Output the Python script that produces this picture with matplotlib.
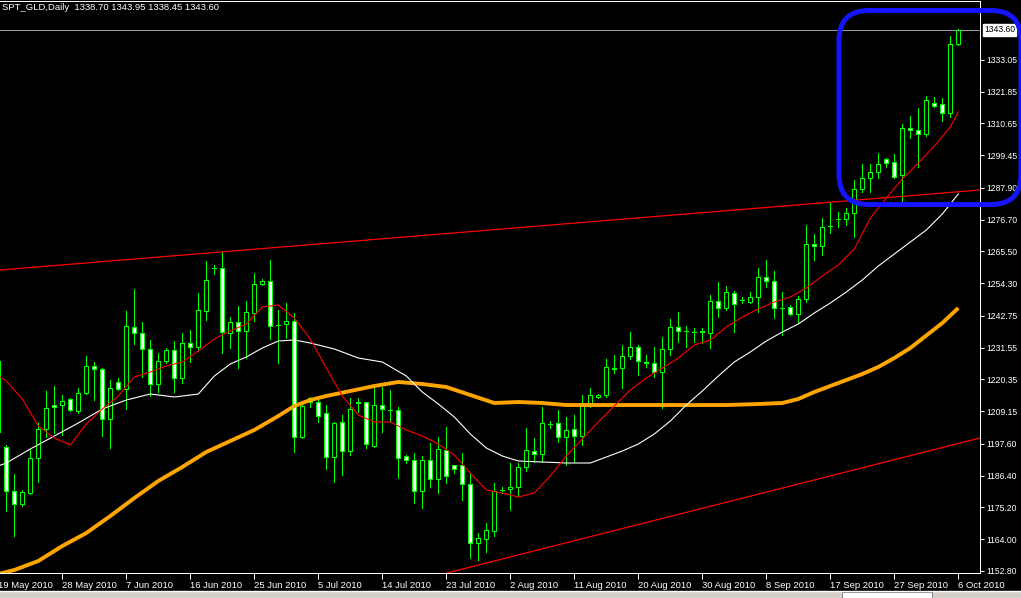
import numpy as np
import matplotlib
matplotlib.use("Agg")
import matplotlib.pyplot as plt
import matplotlib.transforms as mtransforms
from matplotlib.patches import Rectangle, FancyBboxPatch

plt.rcParams['font.family'] = ['Liberation Sans', 'DejaVu Sans']

# daily bars, bar -1 = 19 May 2010 ... bar 119 = 6 Oct 2010
bars = np.arange(-1, 120)

opens = [1201.80, 1196.51, 1180.99, 1176.41, 1180.29, 1192.63, 1202.86, 1211.33, 1211.33, 1213.44,
         1209.21, 1215.56, 1225.08, 1224.02, 1206.39, 1219.44, 1216.97, 1238.84, 1236.72, 1231.08,
         1218.73, 1226.85, 1230.73, 1220.85, 1233.20, 1231.79, 1244.48, 1259.65, 1259.65, 1236.72,
         1240.60, 1237.43, 1243.77, 1254.00, 1255.06, 1239.54, 1239.90, 1240.96, 1200.04, 1213.80,
         1212.38, 1208.50, 1192.98, 1205.33, 1195.10, 1212.38, 1212.38, 1196.86, 1211.33, 1209.56,
         1209.56, 1193.34, 1191.93, 1180.99, 1191.93, 1185.23, 1195.45, 1190.16, 1190.16, 1183.46,
         1162.65, 1164.06, 1166.88, 1181.34, 1181.69, 1182.41, 1189.46, 1195.10, 1194.04, 1204.62,
         1204.98, 1200.04, 1202.86, 1200.39, 1212.03, 1214.15, 1214.85, 1224.38, 1224.38, 1228.61,
         1231.79, 1226.49, 1226.14, 1222.96, 1231.08, 1238.84, 1237.43, 1237.07, 1237.07, 1236.72,
         1248.01, 1245.54, 1250.83, 1248.36, 1247.66, 1249.42, 1256.47, 1255.06, 1245.54, 1245.90,
         1243.42, 1248.72, 1268.11, 1267.41, 1274.46, 1276.93, 1276.93, 1279.05, 1287.51, 1291.39,
         1293.51, 1298.09, 1297.04, 1292.45, 1309.03, 1308.33, 1306.92, 1317.85, 1317.50, 1314.36,
         1338.70]
highs = [1228.00, 1197.22, 1186.99, 1181.34, 1195.81, 1204.98, 1216.26, 1218.03, 1214.85, 1213.80,
         1217.32, 1228.61, 1226.49, 1224.38, 1220.14, 1220.85, 1244.48, 1252.24, 1240.60, 1234.25,
         1229.67, 1231.43, 1233.90, 1236.72, 1237.78, 1250.83, 1262.12, 1260.71, 1265.30, 1242.37,
         1246.25, 1248.01, 1257.88, 1255.77, 1262.47, 1244.83, 1247.30, 1243.77, 1212.38, 1214.15,
         1214.15, 1211.33, 1205.33, 1207.80, 1213.80, 1213.80, 1212.50, 1217.68, 1217.68, 1216.62,
         1210.62, 1193.69, 1194.40, 1193.34, 1197.92, 1200.04, 1203.57, 1190.30, 1194.40, 1186.99,
         1166.17, 1169.70, 1183.81, 1182.41, 1190.87, 1190.87, 1203.21, 1199.68, 1210.62, 1205.68,
         1209.56, 1207.10, 1207.80, 1214.85, 1217.32, 1215.30, 1227.55, 1228.96, 1232.49, 1237.07,
         1232.49, 1228.96, 1231.79, 1235.31, 1241.66, 1244.13, 1239.19, 1238.49, 1238.49, 1250.12,
         1254.71, 1253.30, 1251.53, 1249.42, 1251.18, 1259.65, 1262.47, 1258.59, 1251.18, 1246.60,
         1249.77, 1274.81, 1271.64, 1277.28, 1282.93, 1279.40, 1280.81, 1290.69, 1296.33, 1296.33,
         1300.21, 1298.45, 1299.86, 1310.44, 1313.26, 1316.09, 1320.32, 1319.97, 1319.61, 1341.48,
         1343.95]
lows = [1199.00, 1173.94, 1165.12, 1175.70, 1179.90, 1184.17, 1200.04, 1201.45, 1200.74, 1209.21,
        1208.50, 1215.21, 1213.09, 1200.39, 1196.16, 1216.62, 1209.92, 1232.84, 1221.20, 1214.50,
        1215.91, 1226.14, 1215.91, 1219.09, 1226.49, 1230.37, 1241.31, 1257.53, 1229.67, 1231.43,
        1224.38, 1227.90, 1240.96, 1253.65, 1234.60, 1226.14, 1234.96, 1194.75, 1199.68, 1210.62,
        1205.33, 1188.75, 1184.17, 1186.64, 1193.69, 1208.86, 1196.16, 1196.50, 1201.80, 1205.33,
        1185.58, 1190.87, 1176.76, 1175.00, 1182.41, 1180.29, 1183.81, 1187.34, 1177.81, 1157.36,
        1156.65, 1159.36, 1165.12, 1180.29, 1174.29, 1179.23, 1188.05, 1191.22, 1191.22, 1203.21,
        1198.27, 1190.16, 1191.22, 1197.22, 1210.62, 1213.80, 1214.15, 1222.61, 1217.32, 1227.55,
        1221.91, 1224.73, 1221.20, 1210.27, 1228.96, 1233.55, 1231.79, 1233.55, 1233.20, 1231.43,
        1242.37, 1244.83, 1237.07, 1247.30, 1247.30, 1244.13, 1252.94, 1242.01, 1236.01, 1243.07,
        1240.25, 1247.66, 1262.47, 1264.23, 1271.99, 1274.11, 1274.81, 1270.58, 1286.46, 1286.46,
        1291.39, 1295.27, 1291.50, 1282.58, 1305.50, 1295.27, 1306.21, 1316.44, 1311.50, 1312.91,
        1338.45]
closes = [1226.85, 1180.99, 1176.41, 1180.64, 1192.63, 1202.86, 1210.27, 1210.62, 1212.74, 1209.56,
          1215.56, 1225.08, 1224.02, 1206.39, 1217.32, 1216.97, 1239.19, 1236.72, 1231.08, 1218.73,
          1226.85, 1230.73, 1220.85, 1233.20, 1231.79, 1244.83, 1255.42, 1259.50, 1237.07, 1240.60,
          1237.43, 1244.13, 1254.00, 1255.06, 1239.19, 1239.40, 1240.96, 1200.04, 1210.97, 1212.38,
          1207.45, 1192.98, 1204.98, 1195.10, 1209.92, 1212.20, 1197.57, 1211.33, 1209.92, 1209.40,
          1192.63, 1191.93, 1180.99, 1191.93, 1185.23, 1195.81, 1186.28, 1188.75, 1183.46, 1162.65,
          1164.41, 1167.23, 1180.99, 1181.20, 1182.41, 1189.46, 1195.45, 1194.04, 1204.98, 1204.80,
          1200.04, 1202.51, 1200.39, 1212.03, 1214.85, 1215.00, 1224.73, 1224.20, 1228.61, 1231.79,
          1226.85, 1226.30, 1222.96, 1231.08, 1238.84, 1237.43, 1237.30, 1236.90, 1237.30, 1248.01,
          1245.54, 1251.18, 1246.95, 1248.20, 1249.42, 1256.47, 1255.06, 1245.54, 1245.40, 1243.42,
          1248.72, 1268.11, 1267.41, 1274.11, 1274.30, 1276.80, 1278.99, 1287.51, 1291.39, 1293.51,
          1296.33, 1296.68, 1291.75, 1309.03, 1308.33, 1306.92, 1318.91, 1316.79, 1314.36, 1338.70,
          1343.60]

# moving averages
red_bars = [-1, 0, 2, 4, 6, 8, 10, 12, 14, 16, 18, 20, 22, 24, 26, 28, 30, 32, 34, 36, 38, 40,
            42, 44, 46, 48, 50, 52, 54, 56, 58, 60, 62, 64, 66, 68, 70, 72, 74, 76, 78, 80, 82,
            84, 86, 88, 90, 92, 94, 96, 98, 100, 102, 104, 106, 108, 110, 112, 114, 116, 118, 119]
red_ma = [1221.55, 1219.79, 1213.44, 1203.92, 1199.68, 1197.22, 1204.62, 1209.91, 1214.50, 1221.20,
          1222.96, 1225.08, 1226.49, 1230.37, 1234.60, 1237.43, 1239.90, 1245.89, 1246.60, 1242.01,
          1234.60, 1224.38, 1214.50, 1207.80, 1205.33, 1205.33, 1202.51, 1200.39, 1197.57, 1193.69,
          1187.34, 1181.34, 1180.28, 1178.87, 1180.28, 1186.28, 1193.34, 1199.33, 1205.33, 1210.97,
          1216.62, 1220.85, 1224.38, 1227.90, 1232.49, 1234.25, 1238.83, 1242.37, 1245.19, 1247.66,
          1249.42, 1252.59, 1256.83, 1260.71, 1266.35, 1277.28, 1284.34, 1291.04, 1296.68, 1302.68,
          1309.38, 1314.67]

white_bars = [-1, 0, 3, 6, 9, 12, 15, 18, 21, 24, 26, 28, 30, 32, 34, 36, 38, 41, 44, 47, 50, 52,
              54, 56, 58, 60, 62, 64, 67, 70, 73, 75, 77, 79, 81, 83, 85, 87, 89, 91, 93, 95, 97,
              99, 101, 103, 105, 107, 109, 111, 113, 115, 117, 119]
white_ma = [1189.81, 1190.87, 1195.80, 1200.39, 1204.98, 1209.91, 1213.09, 1215.20, 1214.15, 1215.20,
            1221.55, 1225.79, 1228.26, 1231.43, 1233.90, 1234.25, 1233.19, 1231.08, 1227.90, 1226.49,
            1221.55, 1215.91, 1211.68, 1207.09, 1201.10, 1196.16, 1193.34, 1191.57, 1191.22, 1190.87,
            1190.87, 1192.98, 1195.10, 1197.57, 1201.10, 1205.68, 1211.32, 1216.26, 1221.55, 1226.49,
            1230.02, 1233.90, 1237.07, 1239.90, 1243.78, 1247.30, 1251.18, 1255.42, 1260.35, 1264.59,
            1268.82, 1273.05, 1278.70, 1285.75]

orange_bars = [-1, 1, 4, 7, 10, 13, 16, 19, 22, 25, 28, 31, 34, 36, 38, 40, 43, 46, 49, 52, 55,
               58, 61, 64, 67, 70, 74, 78, 82, 86, 90, 94, 97, 99, 101, 103, 105, 107, 109, 111,
               113, 115, 117, 119]
orange_ma = [1151.71, 1153.12, 1156.30, 1161.59, 1166.17, 1172.17, 1178.50, 1184.52, 1189.46, 1194.75,
             1198.63, 1202.51, 1207.44, 1210.97, 1213.09, 1214.50, 1216.26, 1218.03, 1219.44, 1218.73,
             1217.67, 1214.85, 1212.03, 1212.38, 1212.03, 1211.32, 1211.32, 1211.32, 1211.32, 1211.32,
             1211.32, 1211.68, 1212.03, 1213.44, 1215.91, 1218.03, 1220.14, 1222.26, 1224.73, 1227.90,
             1231.43, 1235.84, 1240.25, 1245.54]

# trend lines (bar, price)
upper_trend_bars = [-1, 122]
upper_trend_prices = [1258.90, 1287.23]
lower_trend_bars = [40, 122]
lower_trend_prices = [1141.30, 1199.90]

price_ticks = [1152.80, 1164.00, 1175.20, 1186.40, 1197.60, 1209.15, 1220.35, 1231.55, 1242.75,
               1254.30, 1265.50, 1276.70, 1287.90, 1299.45, 1310.65, 1321.85, 1333.05]
date_tick_bars = list(range(-1, 120, 8))
date_labels = ["19 May 2010", "28 May 2010", "7 Jun 2010", "16 Jun 2010", "25 Jun 2010",
               "5 Jul 2010", "14 Jul 2010", "23 Jul 2010", "2 Aug 2010", "11 Aug 2010",
               "20 Aug 2010", "30 Aug 2010", "8 Sep 2010", "17 Sep 2010", "27 Sep 2010",
               "6 Oct 2010"]

green = '#00ff00'
fs = 6.8
px = 0.72  # one pixel in points
W, H = 1021, 598

fig = plt.figure(figsize=(W / 100, H / 100), dpi=100, facecolor='black')
ax = fig.add_axes([-1.7 / W, 1 - 573 / H, 981.7 / W, 572.5 / H])
ax.set_facecolor('black')
ax.set_xlim(-1, 121.71)
ax.set_ylim(1152.07, 1354.0)

# bid line
ax.axhline(closes[-1], color='#9898a8', lw=px, zorder=1, antialiased=False)

# candles
ax.vlines(bars, lows, highs, color=green, lw=px, zorder=2, antialiased=False)
bw = 0.5
for b, o, c in zip(bars, opens, closes):
    face = 'black' if c >= o else 'white'
    ax.add_patch(Rectangle((b - bw / 2, min(o, c)), bw, abs(c - o), facecolor=face,
                           edgecolor=green, lw=px, zorder=3, antialiased=False))

# moving averages
ax.plot(orange_bars, orange_ma, color='#ffa500', lw=2.8, zorder=4, solid_capstyle='butt')
ax.plot(white_bars, white_ma, color='white', lw=0.8, zorder=5)
ax.plot(red_bars, red_ma, color='red', lw=0.8, zorder=5)

# trend lines
ax.plot(upper_trend_bars, upper_trend_prices, color='red', lw=0.9, zorder=6)
ax.plot(lower_trend_bars, lower_trend_prices, color='red', lw=0.9, zorder=6)

# axes look
ax.spines['left'].set_visible(False)
for side in ['top', 'right', 'bottom']:
    ax.spines[side].set_color('white')
    ax.spines[side].set_linewidth(px)

ax.yaxis.tick_right()
ax.set_yticks(price_ticks)
ax.set_yticklabels([f"{p:.2f}" for p in price_ticks])
ax.tick_params(axis='y', colors='white', length=3, width=px, pad=1.4, labelsize=6.2)
ax.set_xticks(date_tick_bars)
ax.set_xticklabels(date_labels)
for lab in ax.get_xticklabels():
    lab.set_ha('left')
ax.tick_params(axis='x', colors='white', length=4, width=px, pad=1.5, labelsize=fs)

# current price box
off = mtransforms.ScaledTranslation(4.0 / 100, 0, fig.dpi_scale_trans)
trans = mtransforms.blended_transform_factory(ax.transAxes, ax.transData) + off
ax.text(1.0, closes[-1], f"{closes[-1]:.2f}", transform=trans, ha='left', va='center',
        fontsize=6.2, color='black', clip_on=False, zorder=10,
        bbox=dict(boxstyle='square,pad=0.12', fc='white', ec='white'))

# overlay in pixel coords for header, blue box and bottom bar
ov = fig.add_axes([0, 0, 1, 1], zorder=10)
ov.set_xlim(0, W)
ov.set_ylim(H, 0)
ov.axis('off')
ov.patch.set_alpha(0)

header = f"SPT_GLD,Daily  {opens[-1]:.2f} {highs[-1]:.2f} {lows[-1]:.2f} {closes[-1]:.2f}"
ov.text(2, 8, header, color='white', fontsize=fs, ha='left', va='center')

ov.add_patch(FancyBboxPatch((839, 10.5), 182, 194, boxstyle='round,pad=0,rounding_size=30',
                            fill=False, ec='#1414ff', lw=3.6))

ov.add_patch(Rectangle((0, 591), W, 7, fc='#d4d0c8', ec='none'))
ov.plot([0, W], [591, 591], color='white', lw=1)
ov.add_patch(Rectangle((842, 592), 90, 6, fc='white', ec='#808080', lw=0.7))

fig.savefig('out.png', dpi=100, facecolor='black')
